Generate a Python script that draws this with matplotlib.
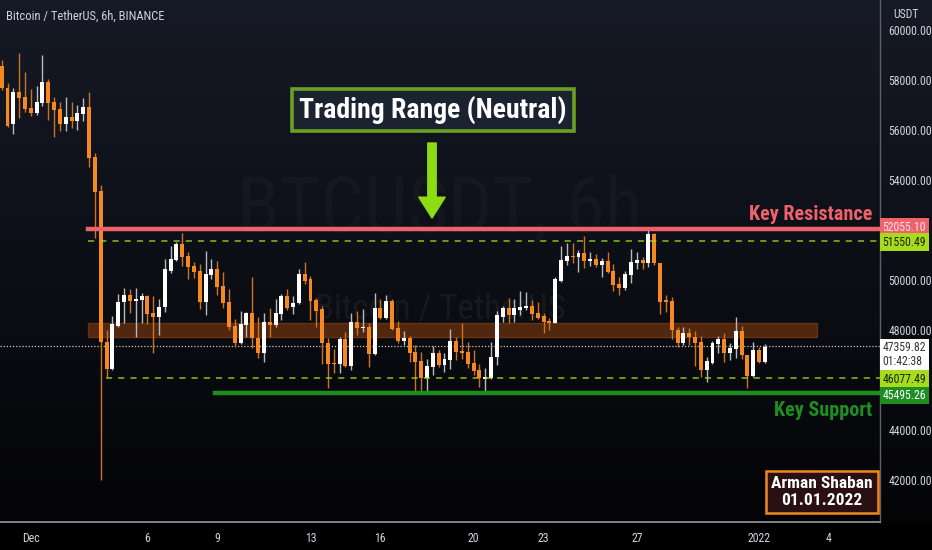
import matplotlib
matplotlib.use("Agg")
import matplotlib.pyplot as plt
import matplotlib.transforms as mtransforms
import numpy as np

# ---------------- data ----------------
opens = [58560,57690,56230,57530,57310,56870,56690,57070,57930,57110,56830,56230,56530,56370,56640,56910,54930,53560,47510,46440,
         48170,49110,49400,49170,49210,49360,48670,48510,48910,50360,50800,51440,50960,50570,50360,49130,50200,50440,49760,49130,
         48160,47490,48200,48690,47670,47090,48310,48200,48640,49360,48910,49070,50230,50030,49200,48830,47490,46690,46640,47630,
         46560,48330,48080,48130,47040,48870,48470,49170,48070,47570,47690,47110,46760,46090,46530,47070,46600,46800,47570,47160,
         47110,46670,46400,46050,46070,46910,48530,48870,48600,48800,48890,48970,48670,48560,48360,48290,49970,50760,50960,50930,
         51090,50770,50840,50600,50760,50370,49840,49670,50200,50690,50800,50670,51830,50690,49200,49160,48000,47490,47890,47730,
         47530,46400,46690,47440,47640,47070,47230,47960,47000,46160,47200,46730]
highs = [58800,57890,57670,59090,58310,57630,57760,59000,58030,57310,57110,57310,57130,57000,57270,57530,55070,53800,48000,48560,
         49440,49670,49630,49670,49490,49400,49360,49230,50830,51370,51510,51890,51130,50730,50630,51160,50830,50760,50330,49640,
         48440,48770,48730,50110,48510,48670,48870,49240,49440,49630,49360,50440,50710,50160,49270,48960,47670,47230,47730,47910,
         48670,48760,48830,48270,49490,49240,49400,49230,48360,47960,47760,47400,47130,46840,47370,47200,47070,48030,47730,48270,
         47530,47200,46630,46470,47530,48770,48960,49270,49240,49560,49510,49200,49130,48690,48490,50130,51360,51490,51490,51200,
         51760,51110,51030,50870,51110,50630,50130,50360,51230,51110,50930,52040,51870,50690,49400,49330,48130,48110,48070,47970,
         47760,46930,47570,47760,47890,47490,48510,48160,47000,47530,47310,47440]
lows = [57600,56110,55830,56470,56730,56560,56600,56970,56400,55730,55970,55970,56070,56000,56370,54530,51670,42000,46130,46400,
        48110,48270,48670,47710,48270,48240,47070,47800,48730,50290,50770,50570,50030,50070,48830,48600,50030,49400,48870,48000,
        47310,47440,47710,47270,46870,46730,47730,48110,48400,48800,48640,49040,49840,48400,48110,46640,45670,46290,46290,46510,
        46400,47800,47930,46530,47000,48430,48430,48000,47490,47400,46730,45470,45470,45490,46200,46530,46330,46430,46800,46830,
        46470,46200,45730,45530,46030,46600,48330,48270,48330,48600,48800,48400,48430,47890,48000,48270,49930,50600,50690,50330,
        50470,50570,50530,50110,50270,49560,49400,49600,49870,50430,50430,50530,50600,48630,48730,47630,47330,47400,47400,46560,
        46110,45910,46640,47070,46730,46800,46870,46830,45670,46130,46690,46690]
closes = [57680,56170,57530,57270,56830,56670,57110,57930,57090,56800,56230,56510,56370,56670,56910,54890,53530,47510,46440,48240,
          49110,49400,49170,49250,49360,48640,48510,48930,50430,50840,51440,50930,50530,50330,49130,50230,50440,49730,49090,48110,
          47490,48240,48690,47670,47070,48310,48200,48670,49360,48870,49090,50230,49970,49170,48770,47470,46640,46640,47630,46560,
          48310,48090,48130,47040,48870,48470,49170,48040,47570,47670,47070,46730,46090,46560,47070,46600,46840,47570,47110,47090,
          46640,46360,46070,46110,46910,48600,48870,48600,48870,48930,48970,48630,48490,48330,48290,50030,50800,50960,50930,51090,
          50770,50840,50600,50760,50330,49800,49670,50230,50730,50800,50690,51830,50670,49130,49120,48000,47470,47890,47710,47490,
          46400,46760,47490,47640,47070,47270,47960,47000,46160,47200,46730,47330]

resistance = 52055.10
range_top = 51550.49
range_bottom = 46077.49
support = 45495.26
last_price = 47359.82
countdown = "01:42:38"
zone_low, zone_high = 47732, 48268

price_ticks = [42000, 44000, 48000, 50000, 54000, 56000, 58000, 60000]
date_pos = [5, 25, 37, 53, 65, 81, 93, 109, 130, 142]
date_labels = ["Dec", "6", "9", "13", "16", "20", "23", "27", "2022", "4"]

title = "Bitcoin / TetherUS, 6h, BINANCE"
watermark = "BTCUSDT, 6h"
watermark2 = "Bitcoin / TetherUS"
range_label = "Trading Range (Neutral)"
res_label = "Key Resistance"
sup_label = "Key Support"
author = "Arman Shaban\n01.01.2022"

# ---------------- style ----------------
W, H = 932, 550
NARROW = ["Roboto Condensed", "Liberation Sans Narrow", "Roboto", "DejaVu Sans"]
plt.rcParams["font.family"] = NARROW

UP = "#ffffff"
UP_WICK = "#b9b9b9"
DOWN = "#f5891f"
DOWN_WICK = "#c9741f"
RED = "#f0626b"
LIME = "#a6dc1c"
GREEN = "#1d8f22"
TXT = "#d1d4dc"

fig = plt.figure(figsize=(W / 100, H / 100), dpi=100)

def fx(x):
    return x / W

def fy(y):
    return 1 - y / H

# background gradient
bg = fig.add_axes([0, 0, 1, 1], zorder=-10)
grad = np.linspace(0, 1, 256)[:, None]
top = np.array([0x16, 0x1a, 0x26]) / 255
bot = np.array([0x03, 0x03, 0x05]) / 255
img = top[None, None, :] * (1 - grad[:, :, None]) + bot[None, None, :] * grad[:, :, None]
bg.imshow(img, aspect="auto", extent=[0, 1, 0, 1], origin="upper")
bg.add_patch(plt.Rectangle((0, 0), 1, 28 / H, color="#000000", zorder=2))
bg.set_xlim(0, 1)
bg.set_ylim(0, 1)
bg.axis("off")

plot_right = 880
plot_bottom = 522
ax = fig.add_axes([0, (H - plot_bottom) / H, plot_right / W, plot_bottom / H])
ax.set_facecolor("none")

n = len(opens)
xs = np.arange(n)
o = np.array(opens, float)
h = np.array(highs, float)
l = np.array(lows, float)
c = np.array(closes, float)
up = c >= o

ax.set_xlim(-0.29, 150.75)
ax.set_ylim(40320, 61200)

# zone
ax.axhspan(zone_low, zone_high, xmin=88 / 880, xmax=817 / 880, facecolor="#57290f", edgecolor="#6b3414",
           lw=1, alpha=0.95, zorder=1)

# watermarks
ax.text(0.50, 1 - 210 / 522, watermark, transform=ax.transAxes, ha="center", va="center",
        fontsize=56, color="#ffffff", alpha=0.028, zorder=0.5)
ax.text(0.50, 1 - 309 / 522, watermark2, transform=ax.transAxes, ha="center", va="center",
        fontsize=25, color="#ffffff", alpha=0.05, zorder=1.2)

# candles
body_w = 0.68
for cond, bcol, wcol in [(up, UP, UP_WICK), (~up, DOWN, DOWN_WICK)]:
    ax.vlines(xs[cond], l[cond], h[cond], color=wcol, lw=1.0, zorder=3)
    bh = np.maximum(np.abs(c[cond] - o[cond]), 45)
    ax.bar(xs[cond], bh, bottom=np.minimum(o[cond], c[cond]), width=body_w, color=bcol, zorder=4, lw=0)

# levels
ax.axhline(resistance, xmin=88 / 880, xmax=1, color=RED, lw=3.2, zorder=5)
ax.axhline(range_top, xmin=88 / 880, xmax=1, color=LIME, lw=1.1, ls=(0, (4, 4)), zorder=5, alpha=0.85)
ax.axhline(range_bottom, xmin=106 / 880, xmax=1, color=LIME, lw=1.1, ls=(0, (4, 4)), zorder=5, alpha=0.85)
ax.axhline(support, xmin=215 / 880, xmax=1, color=GREEN, lw=3.2, zorder=5)
ax.axhline(last_price, color="#c8c8c8", lw=0.9, ls=(0, (1, 1.5)), zorder=2)

# arrow
ax.annotate("", xy=(432 / 880, 1 - 218 / 522), xytext=(432 / 880, 1 - 143 / 522),
            xycoords="axes fraction", textcoords="axes fraction",
            arrowprops=dict(arrowstyle="simple,head_length=0.75,head_width=0.95,tail_width=0.3",
                            color="#8edb14", mutation_scale=20, shrinkA=0, shrinkB=0), zorder=6)

# axes styling
for s in ["top", "left"]:
    ax.spines[s].set_visible(False)
ax.spines["right"].set_color("#5d606b")
ax.spines["bottom"].set_color("#8a8d96")
ax.spines["right"].set_linewidth(1)
ax.spines["bottom"].set_linewidth(1.3)
ax.yaxis.tick_right()
ax.set_yticks(price_ticks)
ax.set_yticklabels([f"{p:.2f}" for p in price_ticks])
ax.set_xticks(date_pos)
ax.set_xticklabels(date_labels)
ax.tick_params(axis="y", length=0, pad=6, labelsize=8.5, labelcolor=TXT)
ax.tick_params(axis="x", length=0, pad=7, labelsize=8.5, labelcolor=TXT)

# price tags
blend = mtransforms.blended_transform_factory(ax.transAxes, ax.transData)
def tag(price, text, fc, tc, dy=0):
    ax.text(1.003, price + dy, text, transform=blend, ha="left", va="center", fontsize=8.5, color=tc,
            linespacing=1.05, bbox=dict(boxstyle="square,pad=0.2", fc=fc, ec="none"), zorder=10, clip_on=False)

tag(resistance, f"{resistance:.2f}", RED, "#fde6e8", 60)
tag(range_top, f"{range_top:.2f}", LIME, "#1a2406", -40)
tag(last_price, f"{last_price:.2f}\n{countdown}", "#ffffff", "#333333", -330)
tag(range_bottom, f"{range_bottom:.2f}", LIME, "#1a2406", -40)
tag(support, f"{support:.2f}", GREEN, "#ffffff", -110)

fig.text(fx(906), fy(15), "USDT", ha="center", va="center", fontsize=8.5, color=TXT)
fig.text(fx(6), fy(16), title, ha="left", va="center", fontsize=9, color=TXT)

# annotations
fig.text(fx(433), fy(110), range_label, ha="center", va="center", fontsize=20, fontweight="bold",
         color="#ffffff", bbox=dict(boxstyle="square,pad=0.25", fc="#1b2230", ec="#6aa123", lw=2.6))
fig.text(fx(872), fy(214), res_label, ha="right", va="center", fontsize=14.5, fontweight="bold", color=RED)
fig.text(fx(872), fy(410), sup_label, ha="right", va="center", fontsize=14.5, fontweight="bold", color=GREEN)
fig.text(fx(822), fy(492), author, ha="center", va="center", fontsize=12.5, fontweight="bold", color="#ffffff",
         linespacing=1.1, bbox=dict(boxstyle="square,pad=0.3", fc="#2a1012", ec="#f0871f", lw=1.8))

fig.savefig("out.png", dpi=100, facecolor="#000000")
